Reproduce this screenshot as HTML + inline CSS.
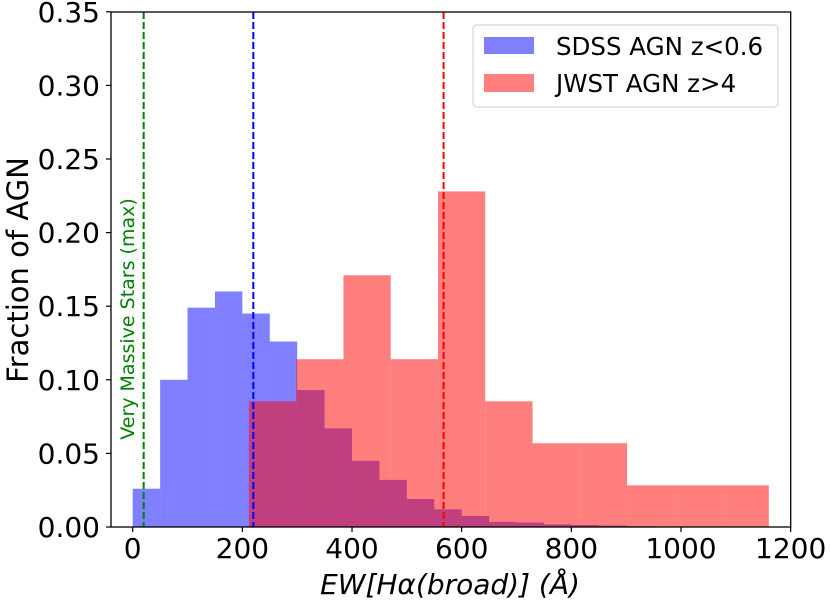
<!DOCTYPE html>
<html><head><meta charset="utf-8"><style>
html,body{margin:0;padding:0;background:#fff;}
svg{display:block;font-family:"DejaVu Sans","Liberation Sans",sans-serif;}
</style></head><body>
<svg id="chart" width="830" height="605" viewBox="0 0 830 605" xmlns="http://www.w3.org/2000/svg">
<g id="bars"></g>
<g id="vlines"></g>
<text x="0" y="0" transform="translate(134,319) rotate(-90)" text-anchor="middle" font-size="19" fill="#008000">Very Massive Stars (max)</text>
<g id="axes"></g>
<text transform="translate(28,270) rotate(-90)" text-anchor="middle" font-size="29" fill="#000">Fraction of AGN</text>
<text x="450" y="594" text-anchor="middle" font-size="28" font-style="italic" fill="#000">EW[Hα(broad)] (Å)</text>
<g>
<rect x="473" y="25" width="305" height="82" rx="4" fill="#fff" fill-opacity="0.8" stroke="#ccc" stroke-width="1"/>
<rect x="484" y="37" width="50" height="17" fill="#0000ff" fill-opacity="0.5"/>
<text x="556" y="55" font-size="24.5" fill="#000">SDSS AGN z&lt;0.6</text>
<rect x="484" y="74" width="50" height="18" fill="#ff0000" fill-opacity="0.5"/>
<text x="556" y="92" font-size="24.5" fill="#000">JWST AGN z&gt;4</text>
</g>
</svg>
<script>
const sdssStart = 0;
const sdssBinWidth = 50;
const sdssValues = [0.026,0.100,0.149,0.160,0.145,0.126,0.093,0.067,0.045,0.032,0.019,0.012,0.0075,0.0035,0.003,0.0018,0.0014,0.001,0.0005];
const jwstStart = 212;
const jwstBinWidth = 86.2;
const jwstValues = [0.0854,0.114,0.171,0.114,0.228,0.0854,0.0569,0.0569,0.0283,0.0283,0.0283];
const refLineValues = [20,220,567];
const refLineColors = ['#008000','#0000ff','#ff0000'];
const xTicks = [0,200,400,600,800,1000,1200];
const yTicks = [0,0.05,0.10,0.15,0.20,0.25,0.30,0.35];
const yTickLabels = ['0.00','0.05','0.10','0.15','0.20','0.25','0.30','0.35'];

const L=111,R=790.7,T=12,B=527;
const xs = v => 132.7 + v*0.5483;
const ys = v => B - v*1472;
const NS='http://www.w3.org/2000/svg';
function mk(tag, attrs, parent){const e=document.createElementNS(NS,tag);for(const k in attrs)e.setAttribute(k,attrs[k]);parent.appendChild(e);return e;}
const bars=document.getElementById('bars');
sdssValues.forEach((v,i)=>{
  const x0=xs(sdssStart+i*sdssBinWidth), x1=xs(sdssStart+(i+1)*sdssBinWidth);
  const r=mk('rect',{x:x0,y:ys(v),width:x1-x0,height:B-ys(v),fill:'#0000ff','fill-opacity':0.5},bars);
  
  
});
jwstValues.forEach((v,i)=>{
  const x0=xs(jwstStart+i*jwstBinWidth), x1=xs(jwstStart+(i+1)*jwstBinWidth);
  const r=mk('rect',{x:x0,y:ys(v),width:x1-x0,height:B-ys(v),fill:'#ff0000','fill-opacity':0.5},bars);
  
  
});
const vl=document.getElementById('vlines');
refLineValues.forEach((v,i)=>{
  const l=mk('line',{x1:xs(v),x2:xs(v),y1:T,y2:B,stroke:refLineColors[i],'stroke-width':2,'stroke-dasharray':'7,3'},vl);
  
  
});
const ax=document.getElementById('axes');
const frame=mk('rect',{x:L,y:T,width:R-L,height:B-T,fill:'none',stroke:'#000','stroke-width':1.3},ax);


xTicks.forEach(v=>{
  mk('line',{x1:xs(v),x2:xs(v),y1:B,y2:B+5,stroke:'#000','stroke-width':1.2},ax);
  const t=mk('text',{x:xs(v),y:B+31,'text-anchor':'middle','font-size':28,fill:'#000'},ax);
  t.textContent=v;
  
  
});
yTicks.forEach((v,i)=>{
  mk('line',{x1:L-5,x2:L,y1:ys(v),y2:ys(v),stroke:'#000','stroke-width':1.2},ax);
  const t=mk('text',{x:L-11,y:ys(v)+10,'text-anchor':'end','font-size':28,fill:'#000'},ax);
  t.textContent=yTickLabels[i];
  
  
});
</script>
</body></html>
